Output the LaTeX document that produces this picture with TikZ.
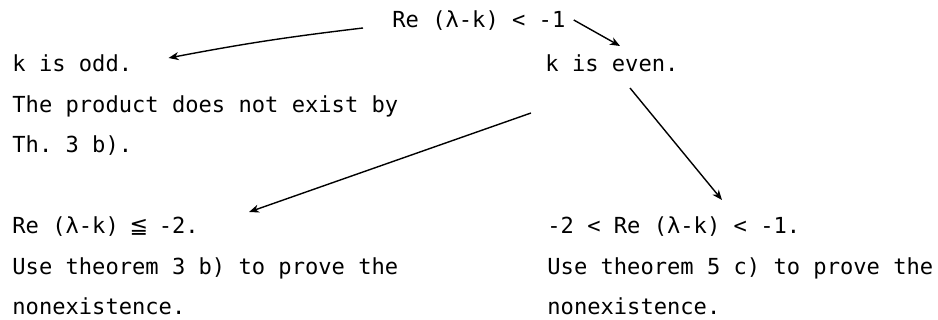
\documentclass[tikz,border=0pt]{standalone}
\usepackage{fontspec}
\setmonofont{DejaVu Sans Mono}
\newfontfamily\symbfont{DejaVu Sans}
\usetikzlibrary{arrows.meta}
\newcommand{\kleq}{\makebox[6.65pt]{\symbfont ≦}}
\tikzset{
  zeile/.style={anchor=base west,inner sep=0pt,font=\ttfamily\fontsize{11.05}{20.25}\selectfont},
  pfeil/.style={-{Stealth[length=5pt,width=4pt,inset=1.5pt]},line width=0.7pt},
}

\begin{document}
\begin{tikzpicture}[x=0.5pt,y=-0.5pt]
  \useasboundingbox (0,0) rectangle (938,320);
  % Ausgangsbedingung
  \node[zeile] (root) at (392,28) {Re (λ-k) < -1};
  % k ungerade
  \node[zeile] (odd)  at (12,72)    {k is odd.};
  \node[zeile] (odd2) at (12,112.5) {The product does not exist by};
  \node[zeile] (odd3) at (12,153)   {Th. 3 b).};
  % k gerade
  \node[zeile] (even) at (545,72) {k is even.};
  % Fall Re <= -2
  \node[zeile] (leq)  at (12,234)   {Re (λ-k) \kleq{} -2.};
  \node[zeile] (leq2) at (12,274.5) {Use theorem 3 b) to prove the};
  \node[zeile] (leq3) at (12,315)   {nonexistence.};
  % Fall -2 < Re < -1
  \node[zeile] (btw)  at (547,234)   {-2 < Re (λ-k) < -1.};
  \node[zeile] (btw2) at (547,274.5) {Use theorem 5 c) to prove the};
  \node[zeile] (btw3) at (547,315)   {nonexistence.};
  % Pfeile
  \draw[pfeil] ([shift={(-29,0)}]root.base west) to[bend right=2] ([shift={(36,-14)}]odd.base east);
  \draw[pfeil] ([shift={(8,-8)}]root.base east) -- ([shift={(75,-26)}]even.base west);
  \draw[pfeil] ([shift={(-14,41)}]even.base west) -- ([shift={(50,-22)}]leq.base east);
  \draw[pfeil] ([shift={(85,16)}]even.base west) -- ([shift={(175,-34)}]btw.base west);
\end{tikzpicture}
\end{document}
